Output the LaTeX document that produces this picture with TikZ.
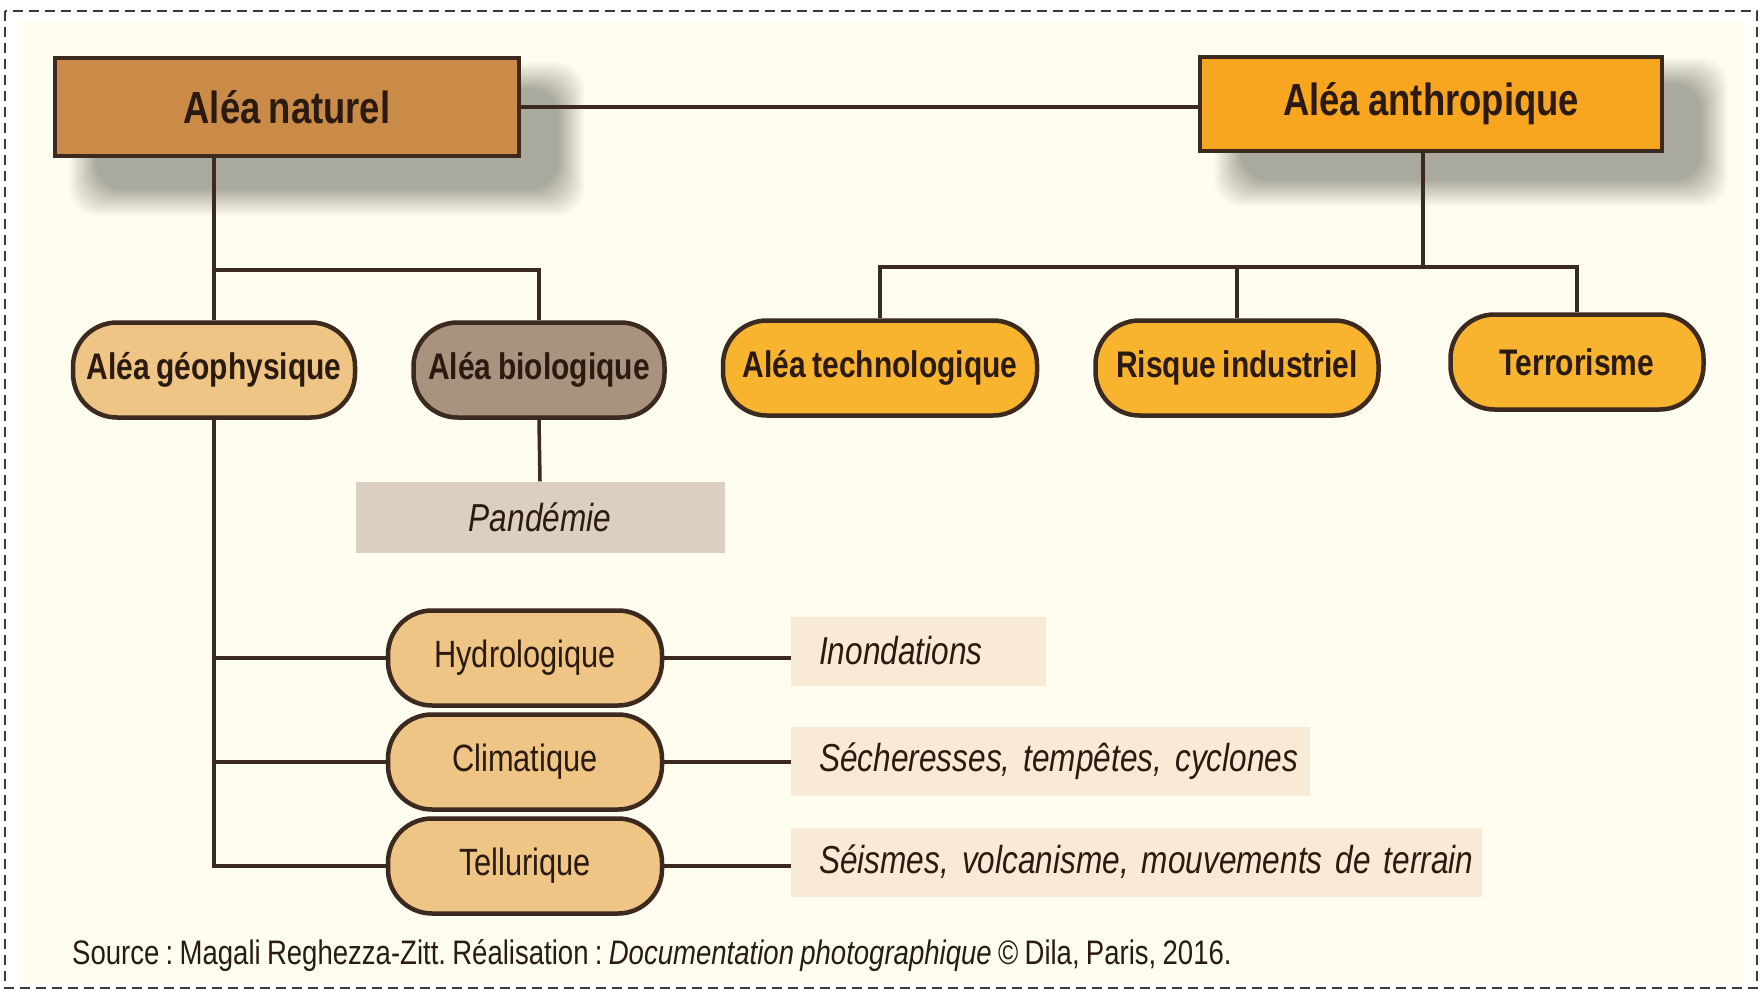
\documentclass[tikz,border=0pt]{standalone}
\usepackage{fontspec}
\setmainfont{Liberation Sans}[FakeStretch=0.81, WordSpace=0.82]
\usetikzlibrary{calc}

\definecolor{edgecol}{HTML}{3C2A1E}
\definecolor{inkcol}{HTML}{2A1A10}
\definecolor{natfill}{HTML}{C98B47}
\definecolor{anthfill}{HTML}{F8A520}
\definecolor{geofill}{HTML}{EFC586}
\definecolor{biofill}{HTML}{A9937F}
\definecolor{techfill}{HTML}{F9B42F}
\definecolor{pandfill}{HTML}{DCCFC1}
\definecolor{descfill}{HTML}{F9EAD6}
\definecolor{paper}{HTML}{FEFDF0}
\definecolor{framecol}{HTML}{3A3A3A}

\pgfdeclarelayer{back}
\pgfdeclarelayer{shade}
\pgfsetlayers{back,shade,main}

% italic example text with a narrower word space
\newcommand\examplefont{\fontsize{39}{46}\selectfont\itshape\fontdimen2\font=9pt\relax}

\tikzset{
  headbox/.style={draw=edgecol, line width=4pt, text=inkcol, inner sep=0pt,
    font=\fontsize{45}{54}\selectfont\bfseries},
  pill/.style={draw=edgecol, line width=4.5pt, text=inkcol, inner sep=0pt,
    rounded corners=44pt, minimum height=95pt},
  toppill/.style={pill, font=\fontsize{37}{44}\selectfont\bfseries},
  subpill/.style={pill, fill=geofill, minimum width=274pt,
    font=\fontsize{38}{45}\selectfont},
  descbox/.style={fill=descfill, text=inkcol, anchor=west, inner xsep=0pt,
    inner ysep=0pt, minimum height=69pt, align=left, font=\examplefont},
  link/.style={draw=edgecol, line width=3.5pt},
}

\begin{document}
\frenchspacing
\begin{tikzpicture}[x=1pt, y=-1pt]
\useasboundingbox (0,0) rectangle (1763,990);

% paper and dashed frame
\begin{pgfonlayer}{back}
  \fill[white] (0,0) rectangle (1763,990);
  \fill[paper] (18,22) rectangle (1745,984);
  \draw[framecol, line width=2pt, dash pattern=on 10pt off 6pt] (5,11) rectangle (1757,988);
\end{pgfonlayer}

% main categories
\node[headbox, fill=natfill, minimum width=464pt, minimum height=98pt] (nat) at (287,107) {Aléa naturel};
\node[headbox, fill=anthfill, minimum width=462pt, minimum height=94pt] (anth) at (1431,104) {Aléa anthropique};

% second level
\node[toppill, fill=geofill, minimum width=282pt] (geo) at (214,370) {Aléa géophysique};
\node[toppill, fill=biofill, minimum width=251pt] (bio) at (539,370) {Aléa biologique};
\node[toppill, fill=techfill, minimum width=314pt] (tech) at (880,368) {Aléa technologique};
\node[toppill, fill=techfill, minimum width=283pt] (ind) at (1237,368) {Risque industriel};
\node[toppill, fill=techfill, minimum width=253pt] (terr) at (1577,362) {Terrorisme};

% biological hazard example
\node[fill=pandfill, text=inkcol, minimum width=369pt, minimum height=71pt, inner sep=0pt,
  font=\examplefont] (pand) at (540,517) {Pandémie};

% geophysical sub-types
\node[subpill] (hydro) at (525,658) {Hydrologique};
\node[subpill] (clim) at (525,762) {Climatique};
\node[subpill] (tell) at (525,866) {Tellurique};

% examples
\node[descbox, text width=255pt] (ino) at (791,651) {\hspace*{28pt}\mbox{Inondations}};
\node[descbox, text width=519pt] (sech) at (791,761) {\hspace*{28pt}\mbox{Sécheresses, tempêtes, cyclones}};
\node[descbox, text width=691pt] (seis) at (791,862) {\hspace*{28pt}\mbox{Séismes, volcanisme, mouvements de terrain}};

% soft shadows behind the two main boxes
\begin{pgfonlayer}{shade}
  \foreach \k in {0,...,27}{
    \fill[black, opacity=0.012, rounded corners=28pt]
      ($(nat.north west)+(16+\k, 6+\k)$) rectangle ($(nat.south east)+(64-\k, 58-\k)$);
    \fill[black, opacity=0.012, rounded corners=28pt]
      ($(anth.north west)+(16+\k, 2+\k)$) rectangle ($(anth.south east)+(64-\k, 54-\k)$);
  }
\end{pgfonlayer}

% junction points
\coordinate (jn) at (214,270);
\coordinate (ja) at (1423,267);

% connectors
\draw[link] (nat.east) -- (nat.east -| anth.west);
\draw[link] (geo.north |- nat.south) -- (geo.north);
\draw[link] (jn) -| (bio.north);
\draw[link] (bio.south) -- (pand.north);
\draw[link] (ja |- anth.south) -- (ja);
\draw[link] (tech.north) |- (ja) -| (terr.north);
\draw[link] (ind.north) -- (ind.north |- ja);
\draw[link] (geo.south) |- (tell.west);
\draw[link] (geo.south |- hydro.west) -- (hydro.west);
\draw[link] (geo.south |- clim.west) -- (clim.west);
\draw[link] (hydro.east) -- (hydro.east -| ino.west);
\draw[link] (clim.east) -- (clim.east -| sech.west);
\draw[link] (tell.east) -- (tell.east -| seis.west);

% credit line
\node[anchor=base west, inner sep=0pt, text=inkcol, font=\fontsize{34}{40}\selectfont] (src) at (72,964)
  {Source : Magali Reghezza-Zitt. Réalisation : \textit{Documentation photographique} © Dila, Paris, 2016.};
\end{tikzpicture}
\end{document}
